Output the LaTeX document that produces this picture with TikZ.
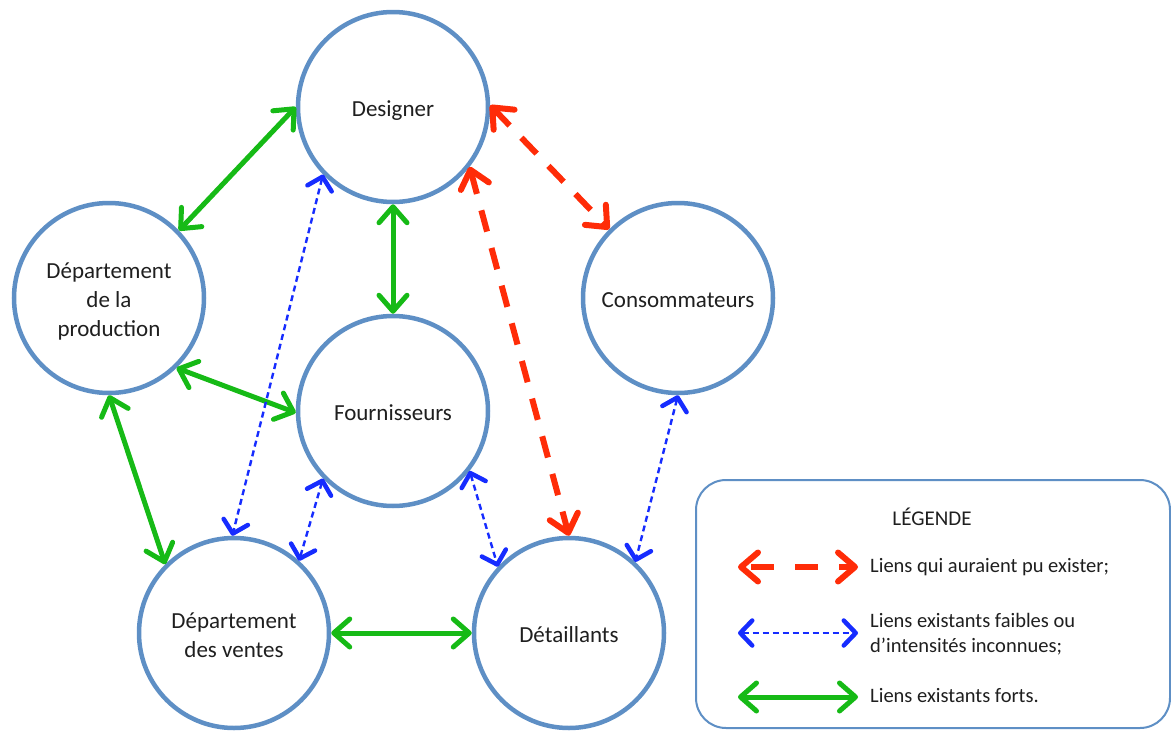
\documentclass[tikz,border=0pt]{standalone}
\usepackage{fontspec}
\setmainfont{Carlito}
\usetikzlibrary{arrows.meta}
\definecolor{ring}{RGB}{94,143,197}
\definecolor{linkgreen}{RGB}{22,186,22}
\definecolor{linkred}{RGB}{255,44,8}
\definecolor{linkblue}{RGB}{22,44,255}
% centred lines, set a little below the middle of the circle
\newcommand{\ctext}[1]{\raisebox{-4pt}[\height][\depth]{\begin{tabular}{@{}c@{}}#1\end{tabular}}}
\tikzset{
  role/.style={circle, draw=ring, line width=4.5pt, fill=white,
    minimum size=190pt, inner sep=0pt, align=center,
    font=\fontsize{23}{29}\selectfont, text=black!88},
  strong/.style={draw=linkgreen, line width=5pt,
    arrows={Straight Barb[length=16pt,width=28pt,round]-Straight Barb[length=16pt,width=28pt,round]}},
  possible/.style={draw=linkred, line width=6pt, dash pattern=on 22pt off 17pt,
    arrows={Straight Barb[length=17pt,width=29pt,round]-Straight Barb[length=17pt,width=29pt,round]}},
  weak/.style={draw=linkblue, line width=2.4pt, dash pattern=on 6pt off 4pt,
    arrows={Straight Barb[length=12pt,width=25pt,line width=4.5pt,round]-Straight Barb[length=12pt,width=25pt,line width=4.5pt,round]}},
  legtext/.style={anchor=west, align=left, inner sep=0pt,
    font=\fontsize{20.5}{25}\selectfont, text=black!88}
}
\begin{document}
\begin{tikzpicture}[x=1pt,y=-1pt]
\useasboundingbox (0,0) rectangle (1171,731);

% actors
\node[role] (des)  at (393,107) {\ctext{Designer}};
\node[role] (prod) at (109,298) {\ctext{Département\\de la\\production}};
\node[role] (cons) at (678,298) {\ctext{Consommateurs}};
\node[role] (four) at (393,411) {\ctext{Fournisseurs}};
\node[role] (vent) at (234,633) {\ctext{Département\\des ventes}};
\node[role] (det)  at (569,633) {\ctext{Détaillants}};

% strong links
\draw[strong] (des.180) -- (prod.44);
\draw[strong] (des.270) -- (four.90);
\draw[strong] (prod.314) -- (four.181);
\draw[strong] (prod.270) -- (vent.135);
\draw[strong] (vent.0) -- (det.180);

% links that could have existed
\draw[possible] (des.1) -- (cons.135);
\draw[possible] (des.322) -- (det.90);

% weak or unknown links
\draw[weak] (des.224) -- (vent.91);
\draw[weak] (four.224) -- (vent.48);
\draw[weak] (four.322) -- (det.137);
\draw[weak] (cons.270) -- (det.47);

% legend
\node[draw=ring, line width=2pt, rounded corners=30pt, fill=white,
      minimum width=474pt, minimum height=248pt, anchor=north west]
      (leg) at (695,479) {};
\node[font=\fontsize{21}{25}\selectfont, text=black!88] (legtitle) at (932,517) {LÉGENDE};

\coordinate (ra) at (738,567); \coordinate (rb) at (858,567);
\coordinate (ba) at (738,633); \coordinate (bb) at (858,633);
\coordinate (ga) at (738,697); \coordinate (gb) at (858,697);
\draw[possible, dash pattern=on 23pt off 21pt, dash phase=-7pt] (ra) -- (rb);
\draw[weak] (ba) -- (bb);
\draw[strong] (ga) -- (gb);

\node[legtext] (lr) at (870,567) {Liens qui auraient pu exister;};
\node[legtext] (lb) at (870,634) {Liens existants faibles ou\\d’intensités inconnues;};
\node[legtext] (lg) at (870,696) {Liens existants forts.};
\end{tikzpicture}
\end{document}
